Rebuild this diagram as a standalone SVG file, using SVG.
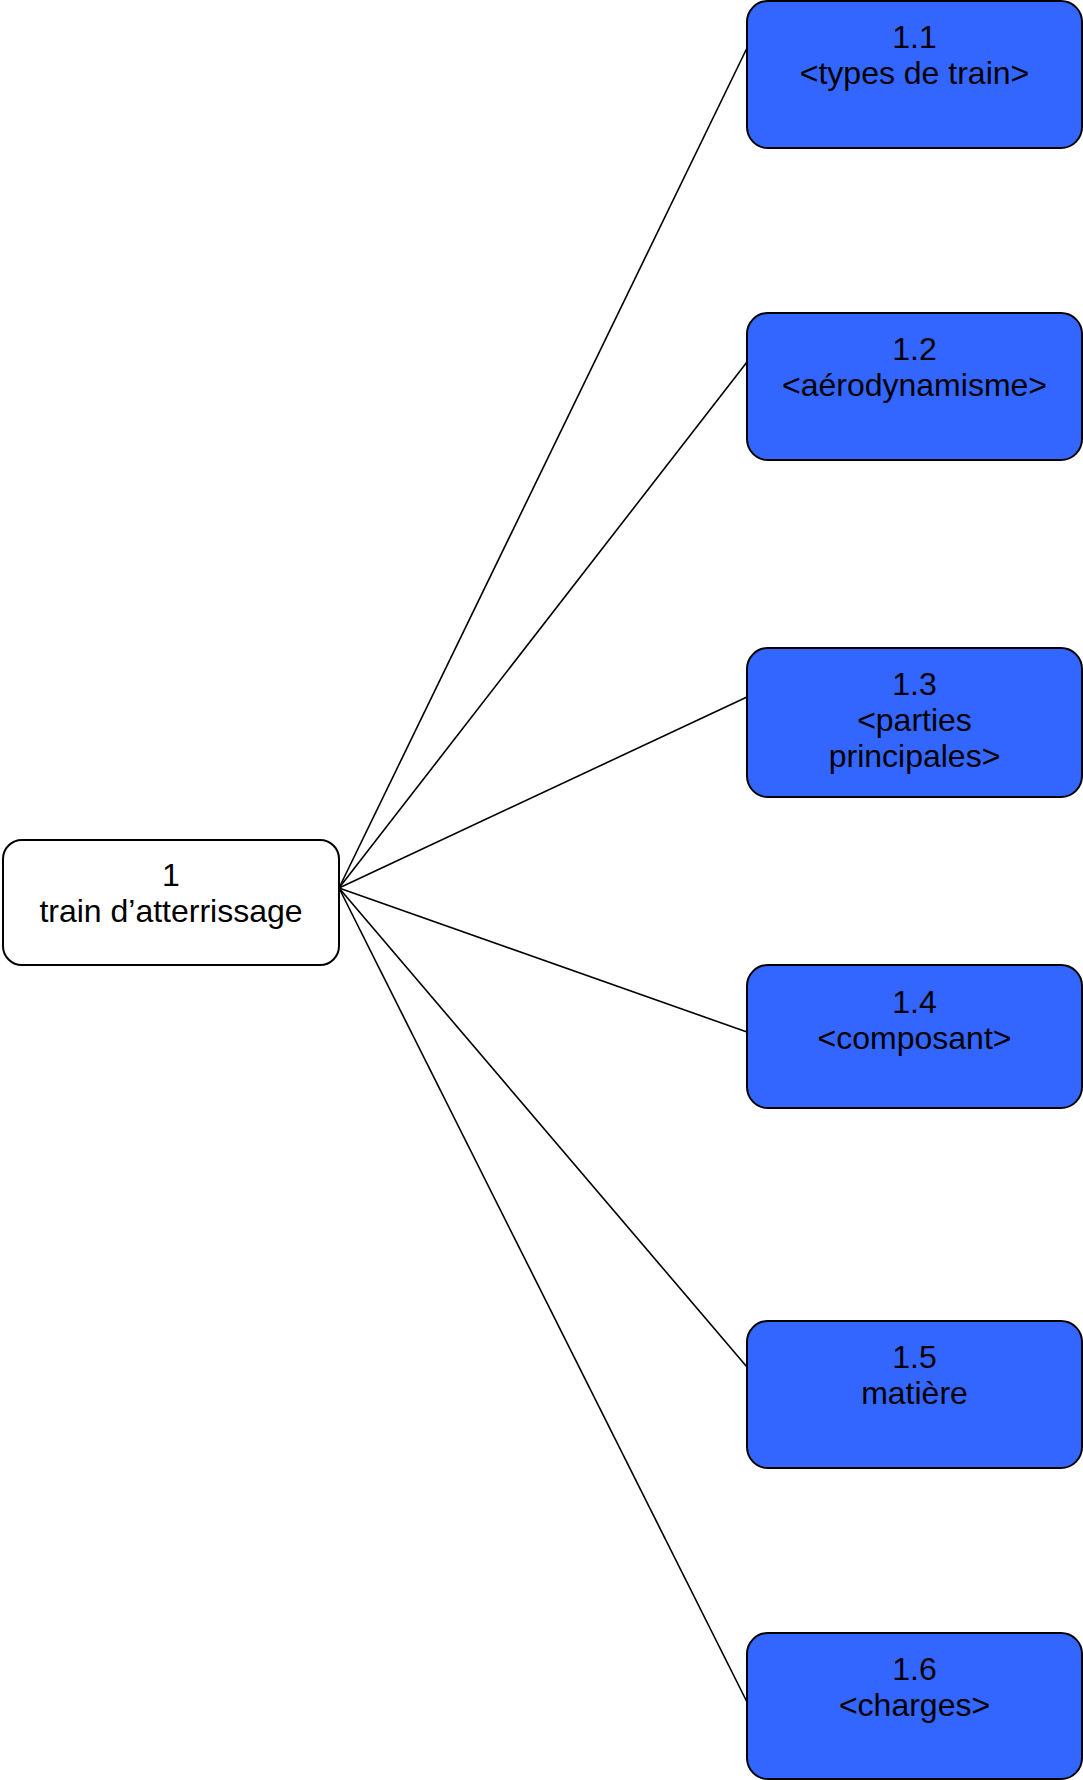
<svg xmlns="http://www.w3.org/2000/svg" width="1083" height="1780" viewBox="0 0 1083 1780">
  <style>
    .root { fill: #ffffff; stroke: #000000; stroke-width: 2; }
    .child { fill: #3366ff; stroke: #000000; stroke-width: 2; }
    .label { font-family: "Liberation Sans", Arial, sans-serif; font-size: 32px; fill: #000000; text-anchor: middle; }
    .link { stroke: #000000; stroke-width: 1.6; fill: none; }
  </style>
  <rect width="1083" height="1780" fill="#ffffff"/>

  <!-- connectors from the root to each sub-topic -->
  <g id="connectors">
    <line class="link" x1="339" y1="888" x2="747" y2="48"/>
    <line class="link" x1="339" y1="888" x2="747" y2="362"/>
    <line class="link" x1="339" y1="888" x2="747" y2="697"/>
    <line class="link" x1="339" y1="888" x2="747" y2="1032"/>
    <line class="link" x1="339" y1="888" x2="747" y2="1367"/>
    <line class="link" x1="339" y1="888" x2="747" y2="1702"/>
  </g>

  <g id="node-1">
    <rect class="root" x="3" y="840" width="336" height="125" rx="19"/>
    <text class="label" x="171" y="886">1</text>
    <text class="label" x="171" y="922">train d’atterrissage</text>
  </g>

  <g id="node-1-1">
    <rect class="child" x="747" y="1" width="335" height="147" rx="21"/>
    <text class="label" x="914.5" y="48">1.1</text>
    <text class="label" x="914.5" y="84">&lt;types de train&gt;</text>
  </g>

  <g id="node-1-2">
    <rect class="child" x="747" y="313" width="335" height="147" rx="21"/>
    <text class="label" x="914.5" y="360">1.2</text>
    <text class="label" x="914.5" y="396">&lt;aérodynamisme&gt;</text>
  </g>

  <g id="node-1-3">
    <rect class="child" x="747" y="648" width="335" height="149" rx="21"/>
    <text class="label" x="914.5" y="695">1.3</text>
    <text class="label" x="914.5" y="731">&lt;parties</text>
    <text class="label" x="914.5" y="767">principales&gt;</text>
  </g>

  <g id="node-1-4">
    <rect class="child" x="747" y="965" width="335" height="143" rx="21"/>
    <text class="label" x="914.5" y="1013">1.4</text>
    <text class="label" x="914.5" y="1049">&lt;composant&gt;</text>
  </g>

  <g id="node-1-5">
    <rect class="child" x="747" y="1321" width="335" height="147" rx="21"/>
    <text class="label" x="914.5" y="1368">1.5</text>
    <text class="label" x="914.5" y="1404">matière</text>
  </g>

  <g id="node-1-6">
    <rect class="child" x="747" y="1633" width="335" height="146" rx="21"/>
    <text class="label" x="914.5" y="1680">1.6</text>
    <text class="label" x="914.5" y="1716">&lt;charges&gt;</text>
  </g>
</svg>
